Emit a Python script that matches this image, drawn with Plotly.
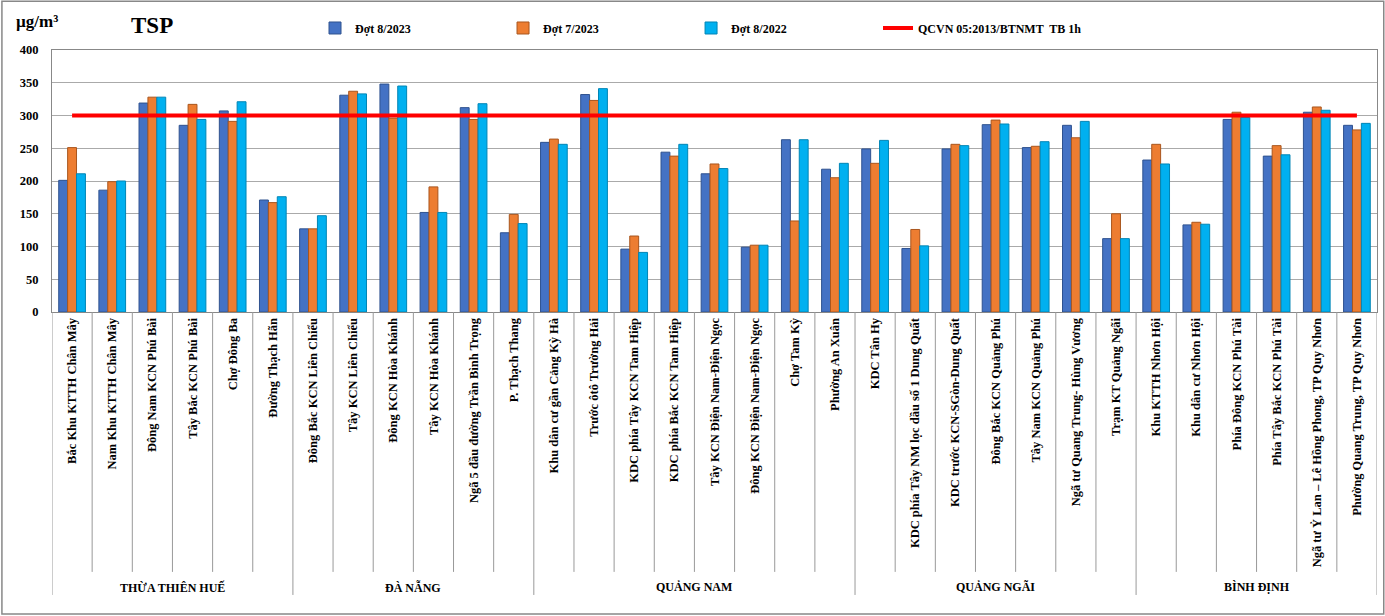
import plotly.graph_objects as go

sites = [
    "Bắc Khu KTTH Chân Mây", "Nam Khu KTTH Chân Mây", "Đông Nam KCN Phú Bài",
    "Tây Bắc KCN Phú Bài", "Chợ Đông Ba", "Đường Thạch Hãn",
    "Đông Bắc KCN Liên Chiểu", "Tây KCN Liên Chiểu", "Đông KCN Hòa Khánh",
    "Tây KCN Hòa Khánh", "Ngã 5 đầu đường Trần Bình Trọng", "P. Thạch Thang",
    "Khu dân cư gần Cảng Kỳ Hà", "Trước ôtô Trường Hải", "KDC phía Tây KCN Tam Hiệp",
    "KDC phía Bắc KCN Tam Hiệp", "Tây KCN Điện Nam-Điện Ngọc", "Đông KCN Điện Nam-Điện Ngọc",
    "Chợ Tam Kỳ", "Phường An Xuân",
    "KDC Tân Hy", "KDC phía Tây NM lọc dầu số 1 Dung Quất", "KDC trước KCN-SGòn-Dung Quất",
    "Đông Bắc KCN Quảng Phú", "Tây Nam KCN Quảng Phú", "Ngã tư Quang Trung- Hùng Vương",
    "Trạm KT Quảng Ngãi",
    "Khu KTTH Nhơn Hội", "Khu dân cư Nhơn Hội", "Phía Đông KCN Phú Tài",
    "Phía Tây Bắc KCN Phú Tài", "Ngã tư Ỷ Lan – Lê Hồng Phong, TP Quy Nhơn",
    "Phường Quang Trung, TP Quy Nhơn",
]
provinces = ["THỪA THIÊN HUẾ", "ĐÀ NẴNG", "QUẢNG NAM", "QUẢNG NGÃI", "BÌNH ĐỊNH"]
province_counts = [6, 6, 8, 7, 6]

dot_8_2023 = [201, 186, 319, 285, 307, 171, 127, 331, 348, 152,
              312, 121, 259, 332, 96, 244, 211, 99, 263, 218,
              249, 97, 249, 286, 251, 285, 112, 232, 133, 294,
              238, 305, 285]
dot_7_2023 = [251, 199, 328, 317, 291, 167, 127, 337, 296, 191,
              294, 149, 264, 323, 116, 238, 226, 102, 139, 205,
              227, 126, 256, 293, 253, 266, 150, 256, 137, 305,
              254, 313, 278]
dot_8_2022 = [211, 200, 328, 294, 321, 176, 147, 333, 345, 152,
              318, 135, 256, 341, 91, 256, 219, 102, 263, 227,
              262, 101, 254, 287, 260, 291, 112, 226, 134, 297,
              240, 308, 288]
qcvn_limit = 300

series_names = ["Đợt 8/2023", "Đợt 7/2023", "Đợt 8/2022"]
limit_name = "QCVN 05:2013/BTNMT  TB 1h"

FONT = "Liberation Serif, Times New Roman, serif"
xs = list(range(len(sites)))

fig = go.Figure()
bar_styles = [("#4472C4", "#2F528F", "legend"),
              ("#ED7D31", "#A9561E", "legend2"),
              ("#00B0F0", "#0085B5", "legend3")]
for name, vals, (fill, edge, lg) in zip(series_names, [dot_8_2023, dot_7_2023, dot_8_2022], bar_styles):
    fig.add_trace(go.Bar(x=xs, y=vals, name=name, legend=lg,
                         marker=dict(color=fill, line=dict(color=edge, width=1))))

fig.add_trace(go.Scatter(x=xs, y=[qcvn_limit] * len(xs), mode="lines", name=limit_name,
                         legend="legend4", line=dict(color="#FF0000", width=4)))

# separators and province labels below the axis
shapes = []
annotations = []
bounds = [0]
for c in province_counts:
    bounds.append(bounds[-1] + c)
for b in range(len(sites) + 1):
    y1 = -1.08 if b in bounds else -0.992
    shapes.append(dict(type="line", xref="x", yref="paper", x0=b - 0.5, x1=b - 0.5,
                       y0=0, y1=y1, line=dict(color="#999999", width=1)))
for p, s, c in zip(provinces, bounds[:-1], province_counts):
    annotations.append(dict(x=s + (c - 1) / 2, xref="x", y=-1.05, yref="paper",
                            text=p, showarrow=False, xanchor="center", yanchor="middle",
                            font=dict(family=FONT, size=12, color="black", weight="bold")))

# outer frame
shapes.append(dict(type="rect", xref="paper", yref="paper", x0=-0.0378, x1=1.0051,
                   y0=-1.153, y1=1.186, line=dict(color="#888888", width=1.5)))

annotations.append(dict(x=-0.0287, xref="paper", y=1.11, yref="paper", text="µg/m³",
                        showarrow=False, xanchor="left", yanchor="middle",
                        font=dict(family=FONT, size=17, color="black", weight="bold")))
annotations.append(dict(x=0.0581, xref="paper", y=1.095, yref="paper", text="TSP",
                        showarrow=False, xanchor="left", yanchor="middle",
                        font=dict(family=FONT, size=23, color="black", weight="bold")))

legend_font = dict(family=FONT, size=12, color="black", weight="bold")
def leg(x):
    return dict(x=x, y=1.084, xanchor="left", yanchor="middle", orientation="h",
                bgcolor="rgba(0,0,0,0)", font=legend_font)

fig.update_layout(
    width=1385, height=616,
    margin=dict(l=52, r=8, t=50, b=304),
    paper_bgcolor="white", plot_bgcolor="white",
    barmode="group", bargap=0.335, bargroupgap=0,
    showlegend=True,
    legend=leg(0.1985), legend2=leg(0.3404), legend3=leg(0.4823), legend4=leg(0.6234),
    shapes=shapes, annotations=annotations,
    xaxis=dict(range=[-0.5, len(sites) - 0.5], tickvals=xs, ticktext=sites, tickangle=-90,
               showgrid=False, showline=True, linecolor="#888888", linewidth=1, mirror=True,
               ticks="", ticklabelstandoff=0, automargin=False,
               tickfont=dict(family=FONT, size=12.5, color="black", weight="bold")),
    yaxis=dict(range=[0, 400], dtick=50, showgrid=True, gridcolor="#AAAAAA", gridwidth=1,
               showline=True, linecolor="#888888", linewidth=1, mirror=True,
               ticks="", ticklabelstandoff=10, automargin=False, zeroline=False,
               tickfont=dict(family=FONT, size=12.5, color="black", weight="bold")),
)

fig.write_html("out.html", config={"displayModeBar": False},
               post_script="document.body.style.margin='0px';document.body.style.overflow='hidden';")
